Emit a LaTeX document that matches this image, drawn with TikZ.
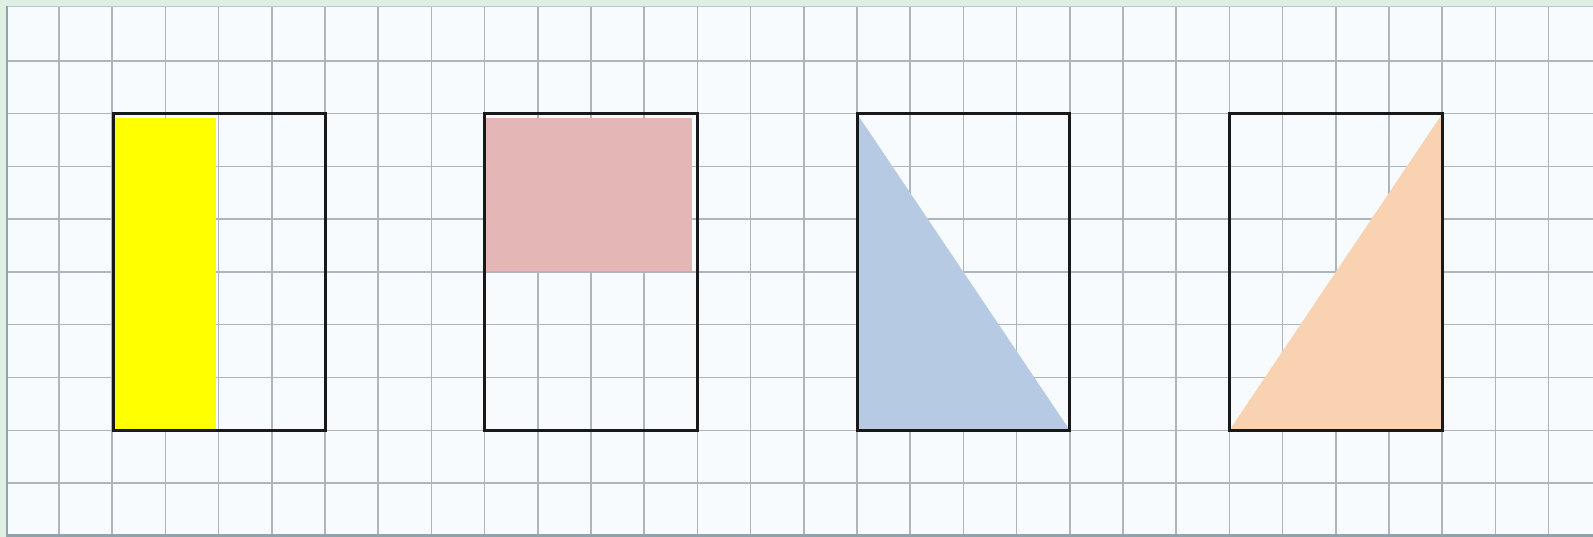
\documentclass[tikz,border=0pt]{standalone}
\definecolor{outer}{HTML}{DDF0E2}
\definecolor{paper}{HTML}{F8FBFD}
\definecolor{gridc}{HTML}{AEB5BD}
\definecolor{framec}{HTML}{8FA3AD}
\definecolor{yel}{HTML}{FFFF00}
\definecolor{pink}{HTML}{E4B6B6}
\definecolor{bluef}{HTML}{B7CAE3}
\definecolor{peach}{HTML}{F9D3B1}
\tikzset{
  gridline/.style={draw=gridc, line width=1.5pt},
  outline/.style={draw=black!90, line width=3pt, line join=miter}
}
\begin{document}
\begin{tikzpicture}[x=1pt,y=-1pt]
\useasboundingbox (0,0) rectangle (1593,537);
\fill[outer] (0,0) rectangle (1593,537);
\fill[paper] (6,6) rectangle (1593,535);
% grid
\foreach \k in {0,...,28} {
  \draw[gridline] ({59+53.2*\k},7) -- ({59+53.2*\k},534);
}
\foreach \k in {0,...,8} {
  \draw[gridline] (7,{61+52.75*\k}) -- (1593,{61+52.75*\k});
}
% frame
\draw[draw=framec!60, line width=1.5pt] (6.5,6.5) -- (1593,6.5);
\draw[draw=framec, line width=2pt] (7,6) -- (7,535);
\draw[draw=framec, line width=3pt] (6,535.5) -- (1593,535.5);
% coordinates of the four frames
\coordinate (a1) at (113.5,113.75); \coordinate (b1) at (325.0,430.25);
\coordinate (a2) at (484.6,113.75); \coordinate (b2) at (697.4,430.25);
\coordinate (a3) at (857.0,113.75); \coordinate (b3) at (1069.8,430.25);
\coordinate (a4) at (1229.4,113.75); \coordinate (b4) at (1442.2,430.25);
% fills
\fill[yel] (114,118.5) rectangle (216,429);
\fill[pink] (485.5,118) rectangle (692,271);
\fill[bluef] (a3) -- (a3 |- b3) -- (b3) -- cycle;
\fill[peach] (b4 |- a4) -- (b4) -- (a4 |- b4) -- cycle;
% outlines
\draw[outline] (a1) rectangle (b1);
\draw[outline] (a2) rectangle (b2);
\draw[outline] (a3) rectangle (b3);
\draw[outline] (a4) rectangle (b4);
\end{tikzpicture}
\end{document}
